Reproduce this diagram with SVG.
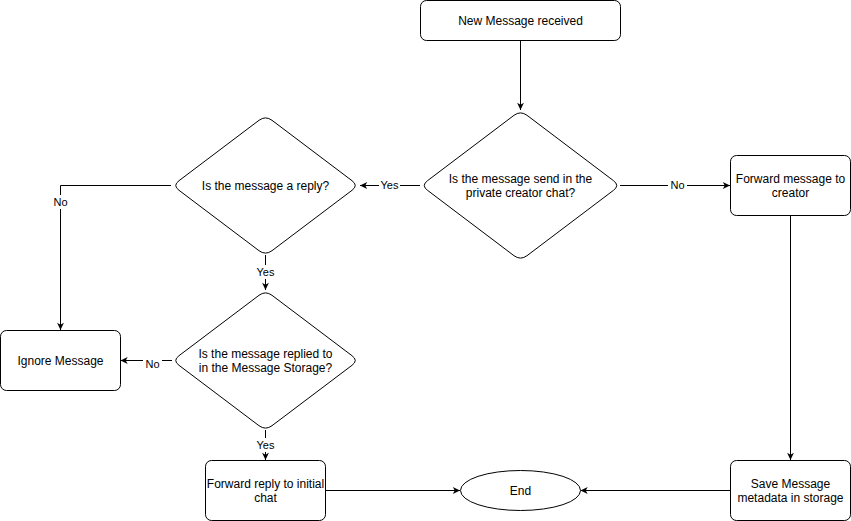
<svg xmlns="http://www.w3.org/2000/svg" width="851" height="521" viewBox="0 0 851 521">
<defs>
<style>
.box{fill:#fff;stroke:#000;stroke-width:1}
.t{font-family:"Liberation Sans",Arial,Helvetica,sans-serif;font-size:12px;fill:#000;text-anchor:middle}
.l{font-family:"Liberation Sans",Arial,Helvetica,sans-serif;font-size:11px;fill:#000;text-anchor:middle}
.c{fill:none;stroke:#000;stroke-width:1}
.lb{fill:#fff}
</style>
<marker id="arr" viewBox="0 0 10 10" refX="9" refY="5" markerWidth="9" markerHeight="9" orient="auto" markerUnits="userSpaceOnUse">
<path d="M1,1.2 L9,5 L1,8.8 L3.2,5 Z" fill="#000"/>
</marker>
</defs>
<rect width="851" height="521" fill="#fff"/>
<g id="connectors">
<path class="c" d="M520.5,40.5 V110" marker-end="url(#arr)"/>
<path class="c" d="M620,185.5 H730" marker-end="url(#arr)"/>
<rect class="lb" x="668" y="178" width="19" height="14"/>
<text class="l" x="677.5" y="189">No</text>
<path class="c" d="M420,185.5 H360" marker-end="url(#arr)"/>
<rect class="lb" x="379" y="178" width="21" height="14"/>
<text class="l" x="389.5" y="189">Yes</text>
<path class="c" d="M171,185.5 H60.5 V330" marker-end="url(#arr)"/>
<rect class="lb" x="51" y="195" width="19" height="14"/>
<text class="l" x="60.5" y="206">No</text>
<path class="c" d="M265.5,255 V290" marker-end="url(#arr)"/>
<rect class="lb" x="255" y="265" width="21" height="14"/>
<text class="l" x="265.5" y="276">Yes</text>
<path class="c" d="M172,360.5 H120.5" marker-end="url(#arr)"/>
<rect class="lb" x="143" y="356" width="19" height="14"/>
<text class="l" x="152.5" y="368">No</text>
<path class="c" d="M265.5,430 V460" marker-end="url(#arr)"/>
<rect class="lb" x="255" y="438" width="21" height="14"/>
<text class="l" x="265.5" y="449">Yes</text>
<path class="c" d="M790.5,215.5 V460" marker-end="url(#arr)"/>
<path class="c" d="M325.5,490.5 H460" marker-end="url(#arr)"/>
<path class="c" d="M730.5,490.5 H580.5" marker-end="url(#arr)"/>
</g>
<g id="n-new">
<rect class="box" x="420.5" y="0.5" width="200" height="40" rx="6"/>
<text class="t" x="520.5" y="25">New Message received</text>
</g>
<g id="n-private">
<path class="box" d="M514,115.3 Q520.5,110.5 527,115.3 L613.5,180.7 Q620,185.5 613.5,190.3 L527,255.7 Q520.5,260.5 514,255.7 L427.5,190.3 Q421,185.5 427.5,180.7 Z"/>
<text class="t" x="520.5" y="183">Is the message send in the</text>
<text class="t" x="520.5" y="197">private creator chat?</text>
</g>
<g id="n-forward-creator">
<rect class="box" x="730.5" y="155.5" width="120" height="60" rx="6"/>
<text class="t" x="790.5" y="183">Forward message to</text>
<text class="t" x="790.5" y="197">creator</text>
</g>
<g id="n-reply">
<path class="box" d="M259,120.3 Q265.5,115.5 272,120.3 L352,180.7 Q358.5,185.5 352,190.3 L272,250.7 Q265.5,255.5 259,250.7 L179,190.3 Q172.5,185.5 179,180.7 Z"/>
<text class="t" x="265.5" y="189.5">Is the message a reply?</text>
</g>
<g id="n-ignore">
<rect class="box" x="0.5" y="330.5" width="120" height="60" rx="6"/>
<text class="t" x="60.5" y="365">Ignore Message</text>
</g>
<g id="n-stored">
<path class="box" d="M259,295.3 Q265.5,290.5 272,295.3 L352,355.7 Q358.5,360.5 352,365.3 L272,425.7 Q265.5,430.5 259,425.7 L179,365.3 Q172.5,360.5 179,355.7 Z"/>
<text class="t" x="265.5" y="358">Is the message replied to</text>
<text class="t" x="265.5" y="372">in the Message Storage?</text>
</g>
<g id="n-forward-reply">
<rect class="box" x="205.5" y="460.5" width="120" height="60" rx="6"/>
<text class="t" x="265.5" y="488">Forward reply to initial</text>
<text class="t" x="265.5" y="502">chat</text>
</g>
<g id="n-save">
<rect class="box" x="730.5" y="460.5" width="120" height="60" rx="6"/>
<text class="t" x="790.5" y="488">Save Message</text>
<text class="t" x="790.5" y="502">metadata in storage</text>
</g>
<g id="n-end">
<ellipse class="box" cx="520.5" cy="490.5" rx="60" ry="20"/>
<text class="t" x="520.5" y="495">End</text>
</g>
</svg>
